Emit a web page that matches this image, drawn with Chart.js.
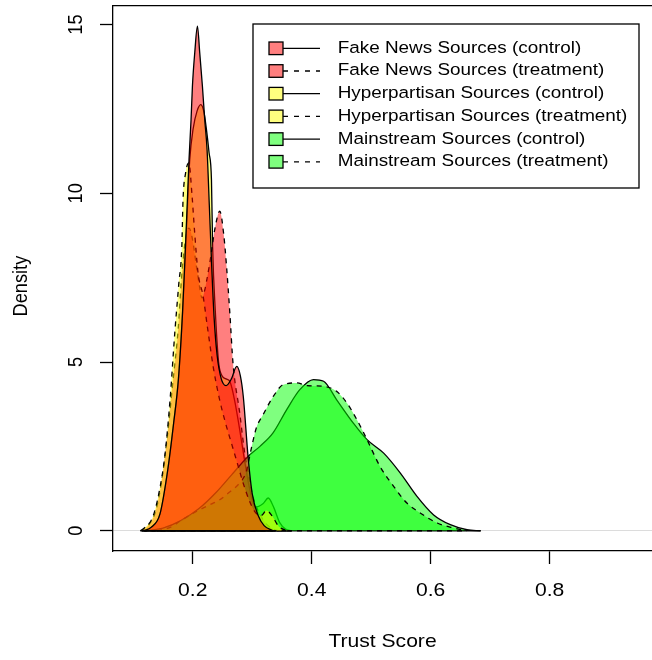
<!DOCTYPE html>
<html>
<head>
<meta charset="utf-8">
<script src="https://cdn.jsdelivr.net/npm/chart.js@4.4.0/dist/chart.umd.min.js"></script>
<style>
  html, body { margin: 0; padding: 0; background: #fff; overflow: hidden; }
</style>
</head>
<body>
<canvas id="chart" width="652" height="660"></canvas>
<script>
// density estimates (x = trust score, y = density)
const fakeControlX = [0.118, 0.13, 0.145, 0.158, 0.168, 0.176, 0.183, 0.188, 0.1915, 0.1938, 0.1972, 0.1995, 0.2034, 0.2079, 0.2118, 0.2163, 0.2202, 0.2241, 0.228, 0.232, 0.236, 0.241, 0.248, 0.256, 0.265, 0.274, 0.28, 0.285, 0.293, 0.3, 0.31, 0.32, 0.335];
const fakeControlY = [0, 0.1, 0.5, 1.8, 3.2, 4.5, 6.5, 8.5, 10.0, 11.0, 12.18, 13.17, 14.16, 14.95, 14.16, 13.17, 12.18, 11.3, 9.6, 7.8, 6.3, 5.2, 4.5, 4.3, 4.5, 4.87, 4.6, 3.98, 2.2, 1.1, 0.45, 0.15, 0];

const fakeTreatX = [0.112, 0.125, 0.138, 0.148, 0.158, 0.166, 0.1755, 0.181, 0.1875, 0.1938, 0.2, 0.2065, 0.2118, 0.2155, 0.2175, 0.2287, 0.237, 0.2455, 0.252, 0.257, 0.2624, 0.2677, 0.279, 0.2874, 0.2945, 0.3013, 0.3182, 0.335, 0.345];
const fakeTreatY = [0, 0.15, 0.6, 1.5, 2.9, 4.3, 5.96, 7.44, 8.6, 8.97, 8.6, 7.8, 7.2, 6.9, 6.95, 7.94, 8.92, 9.47, 8.8, 7.8, 6.45, 4.97, 3.49, 2.3, 1.6, 1.01, 0.33, 0.05, 0];

const hyperControlX = [0.115, 0.13, 0.145, 0.158, 0.168, 0.176, 0.183, 0.188, 0.192, 0.195, 0.2006, 0.2075, 0.2135, 0.219, 0.223, 0.2275, 0.2315, 0.2335, 0.238, 0.2435, 0.249, 0.256, 0.263, 0.27, 0.278, 0.287, 0.295, 0.305, 0.318, 0.327, 0.336, 0.346, 0.356, 0.366];
const hyperControlY = [0, 0.1, 0.5, 1.8, 3.2, 4.5, 6.5, 8.3, 9.9, 11.0, 11.9, 12.45, 12.63, 12.4, 11.9, 11.2, 10.4, 8.4, 6.5, 5.0, 4.6, 4.5, 4.4, 3.9, 3.1, 2.1, 1.3, 0.7, 0.8, 0.97, 0.7, 0.25, 0.05, 0];

const hyperTreatX = [0.114, 0.1331, 0.143, 0.153, 0.162, 0.17, 0.1765, 0.1817, 0.1837, 0.188, 0.1935, 0.199, 0.203, 0.209, 0.2175, 0.225, 0.235, 0.245, 0.255, 0.265, 0.275, 0.285, 0.295, 0.305, 0.315, 0.324, 0.333, 0.345, 0.36];
const hyperTreatY = [0, 0.42, 1.1, 2.2, 3.9, 5.9, 7.3, 8.43, 9.8, 10.6, 10.9, 9.9, 8.9, 7.64, 6.95, 6.0, 4.8, 3.9, 3.2, 2.6, 2.0, 1.4, 0.9, 0.55, 0.45, 0.6, 0.45, 0.12, 0];

const mainControlX = [0.12, 0.15, 0.18, 0.21, 0.24, 0.265, 0.293, 0.313, 0.335, 0.358, 0.38, 0.403, 0.42, 0.442, 0.47, 0.493, 0.521, 0.549, 0.577, 0.605, 0.633, 0.661, 0.684];
const mainControlY = [0, 0.08, 0.3, 0.65, 1.15, 1.65, 2.2, 2.5, 2.9, 3.59, 4.18, 4.48, 4.43, 3.88, 3.19, 2.7, 2.3, 1.71, 1.02, 0.47, 0.18, 0.03, 0];

const mainTreatX = [0.14, 0.161, 0.18, 0.206, 0.225, 0.2455, 0.262, 0.279, 0.29, 0.298, 0.307, 0.3186, 0.3354, 0.352, 0.375, 0.392, 0.42, 0.442, 0.459, 0.476, 0.493, 0.515, 0.538, 0.56, 0.583, 0.611, 0.639, 0.66];
const mainTreatY = [0, 0.09, 0.3, 0.57, 0.74, 0.92, 1.15, 1.42, 1.75, 2.4, 3.05, 3.45, 3.98, 4.33, 4.38, 4.3, 4.28, 4.13, 3.79, 3.29, 2.7, 1.9, 1.31, 0.82, 0.52, 0.23, 0.08, 0];

const seriesNames = [
  'Fake News Sources (control)', 'Fake News Sources (treatment)',
  'Hyperpartisan Sources (control)', 'Hyperpartisan Sources (treatment)',
  'Mainstream Sources (control)', 'Mainstream Sources (treatment)'
];
const xTicks = [0.2, 0.4, 0.6, 0.8];
const yTicks = [0, 5, 10, 15];

const RED = 'rgba(255,0,0,0.5)', YEL = 'rgba(255,255,0,0.5)', GRN = 'rgba(0,255,0,0.5)';
const FONT = '"Liberation Sans", Arial, Helvetica, sans-serif';
const DASH = [5, 5];
const AXIS_SIZE = 18.2;

// the source image is a little wider than tall, so its text is stretched sideways
const TEXT_STRETCH = 1.16;
const baseFillText = CanvasRenderingContext2D.prototype.fillText;
CanvasRenderingContext2D.prototype.fillText = function (text, x, y) {
  const m = this.getTransform();
  const px = m.a * x + m.c * y + m.e;
  this.save();
  this.setTransform(m.a * TEXT_STRETCH, m.b, m.c * TEXT_STRETCH, m.d, px + (m.e - px) * TEXT_STRETCH, m.f);
  baseFillText.call(this, text, x, y);
  this.restore();
};

function pts(xs, ys) { return xs.map((x, i) => ({ x: x, y: ys[i] })); }

// R painted the polygons one after another; higher "order" is painted first
const curves = [
  { xs: fakeControlX,  ys: fakeControlY,  color: RED, dash: [],   order: 1 },
  { xs: fakeTreatX,    ys: fakeTreatY,    color: RED, dash: DASH, order: 5 },
  { xs: hyperControlX, ys: hyperControlY, color: YEL, dash: [],   order: 6 },
  { xs: hyperTreatX,   ys: hyperTreatY,   color: YEL, dash: DASH, order: 2 },
  { xs: mainControlX,  ys: mainControlY,  color: GRN, dash: [],   order: 4 },
  { xs: mainTreatX,    ys: mainTreatY,    color: GRN, dash: DASH, order: 3 }
];

const datasets = [];
curves.forEach((c, i) => {
  datasets.push({
    label: seriesNames[i],
    data: pts(c.xs, c.ys),
    backgroundColor: c.color,
    borderColor: '#000',
    borderWidth: 1.3,
    borderDash: c.dash,
    fill: 'origin',
    pointRadius: 0,
    cubicInterpolationMode: 'monotone',
    order: c.order
  });
});
// closing edge of each polygon along y = 0
curves.forEach((c, i) => {
  datasets.push({
    label: seriesNames[i] + ' base',
    isBase: true,
    data: [{ x: c.xs[0], y: 0 }, { x: c.xs[c.xs.length - 1], y: 0 }],
    borderColor: '#000',
    borderWidth: 1.3,
    borderDash: c.dash,
    fill: false,
    pointRadius: 0,
    order: c.order - 0.5
  });
});

const rLegend = {
  id: 'rLegend',
  afterDraw(chart) {
    const ctx = chart.ctx;
    const items = chart.data.datasets.filter(d => !d.isBase);
    ctx.save();
    ctx.lineWidth = 1.3;
    ctx.strokeStyle = '#000';
    ctx.strokeRect(253, 24, 386, 164);
    ctx.font = '16.3px ' + FONT;
    ctx.textBaseline = 'middle';
    ctx.textAlign = 'left';
    items.forEach((d, i) => {
      const cy = 48.3 + i * 22.7;
      ctx.fillStyle = '#fff';
      ctx.fillRect(269, cy - 6.3, 14, 12.6);
      ctx.fillStyle = d.backgroundColor;
      ctx.fillRect(269, cy - 6.3, 14, 12.6);
      ctx.setLineDash([]);
      ctx.strokeRect(269, cy - 6.3, 14, 12.6);
      ctx.setLineDash(d.borderDash.length ? [5, 6] : []);
      ctx.beginPath();
      ctx.moveTo(283, cy);
      ctx.lineTo(320, cy);
      ctx.stroke();
      ctx.fillStyle = '#000';
      ctx.fillText(d.label, 337.7, cy);
    });
    ctx.restore();
  }
};

new Chart(document.getElementById('chart').getContext('2d'), {
  type: 'line',
  data: { datasets: datasets },
  options: {
    responsive: false,
    animation: false,
    devicePixelRatio: 1,
    layout: { padding: { top: 6, right: 0, bottom: 0, left: 0 } },
    plugins: { legend: { display: false }, tooltip: { enabled: false } },
    scales: {
      x: {
        type: 'linear',
        min: 0.066,
        max: 0.972,
        afterBuildTicks: s => { s.ticks = xTicks.map(v => ({ value: v })); },
        afterFit: s => { s.height = 109; s.paddingLeft = 0; s.paddingRight = 0; },
        grid: { drawOnChartArea: false, tickColor: '#000', tickLength: 13, tickWidth: 1.3 },
        border: { display: true, color: '#000', width: 1.3 },
        ticks: { color: '#000', font: { family: FONT, size: AXIS_SIZE }, padding: 16, maxRotation: 0 },
        title: { display: true, text: 'Trust Score', color: '#000', font: { family: FONT, size: AXIS_SIZE }, padding: { top: 0, bottom: 7 } }
      },
      xTop: {
        type: 'linear',
        position: 'top',
        min: 0.066,
        max: 0.972,
        afterFit: s => { s.height = 0; s.paddingLeft = 0; s.paddingRight = 0; },
        grid: { display: false, drawTicks: false },
        ticks: { display: false },
        border: { display: true, color: '#000', width: 1.3 }
      },
      y: {
        type: 'linear',
        min: -0.6,
        max: 15.55,
        afterBuildTicks: s => { s.ticks = yTicks.map(v => ({ value: v })); },
        afterFit: s => { s.width = 113; s.paddingTop = 0; s.paddingBottom = 0; },
        grid: {
          color: c => (c.tick && c.tick.value === 0) ? '#dcdcdc' : 'rgba(0,0,0,0)',
          lineWidth: 1,
          tickColor: '#000',
          tickLength: 13,
          tickWidth: 1.3
        },
        border: { display: true, color: '#000', width: 1.3 },
        ticks: { color: '#000', font: { family: FONT, size: AXIS_SIZE }, padding: 14, minRotation: 90, maxRotation: 90, crossAlign: 'center' },
        title: { display: true, text: 'Density   ', color: '#000', font: { family: FONT, size: AXIS_SIZE }, padding: { top: 10, bottom: 0 } }
      }
    }
  },
  plugins: [rLegend]
});
</script>
</body>
</html>
